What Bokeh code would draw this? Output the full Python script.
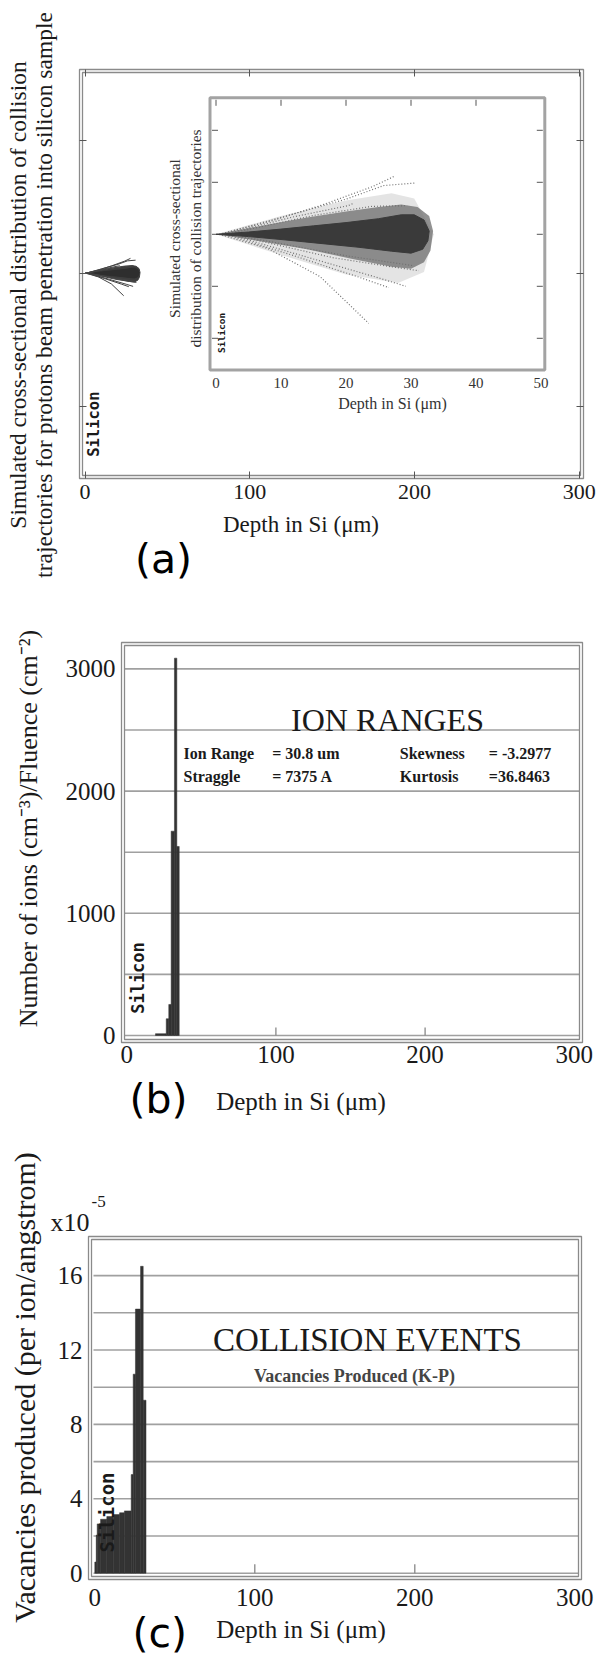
import math
from bokeh.plotting import figure
from bokeh.models import Range1d, LinearAxis, FixedTicker, Label, CustomJSTickFormatter
from bokeh.layouts import column
from bokeh.embed import file_html
from bokeh.resources import INLINE

# ============================== DATA ==============================
# (a) simulated cross-section of collision trajectories (depth, lateral) in µm
core_depth = [0, 5, 10, 15, 20, 25, 28.5, 30.5, 32.0, 32.8, 32.6, 31.8, 30.0, 27.0, 22.0, 16.0, 10.0, 5.0]
core_lateral = [0, 0.35, 0.8, 1.3, 1.8, 2.4, 3.0, 3.0, 2.2, 0.5, -1.0, -2.3, -2.9, -2.6, -2.0, -1.4, -0.8, -0.35]
halo_depth = [0, 8, 14, 20, 25, 28.5, 31.0, 32.8, 33.4, 33.0, 32.0, 30.0, 27.0, 21.0, 14.0, 7.0]
halo_lateral = [0, 1.5, 2.6, 3.5, 4.2, 4.6, 4.2, 2.8, 0.5, -2.5, -4.3, -5.3, -5.0, -3.8, -2.3, -1.1]
spread_depth = [0, 10, 20, 27, 30.5, 33.5, 32, 28, 20, 10]
spread_lateral = [0, 2.8, 5.2, 6.3, 5.5, 0, -5.8, -7.5, -6.2, -3.2]
track_depth = [
    [0.5, 8, 16, 24, 27.6],
    [1, 10, 20, 25.8, 30.7],
    [2, 12, 20.3, 21.0],
    [3, 15, 24, 29.4],
    [0.5, 8, 16, 23.5],
    [2, 12, 22, 26.6],
    [3, 15, 25, 29.2],
    [4, 18, 27, 31.2],
    [5, 20, 30.2],
]
track_lateral = [
    [0, 1.9, 4.4, 7.3, 9.0],
    [0.1, 2.6, 5.4, 7.5, 7.9],
    [0.2, 2.7, 4.4, 4.7],
    [0.3, 2.9, 4.3, 4.4],
    [0, -2.2, -6.5, -13.7],
    [-0.2, -3.3, -6.6, -8.2],
    [-0.3, -3.8, -6.7, -8.0],
    [-0.4, -3.6, -5.0, -5.6],
    [-0.5, -3.3, -4.8],
]
a_depth_ticks = [0, 100, 200, 300]
a_lateral_ticks = [-80.7, 0, 80.7]
inset_depth_ticks = [0, 10, 20, 30, 40, 50]
inset_lateral_ticks = [-16, -8, 0, 8, 16]

# (b) ion ranges histogram
ion_bin_left = [19.3, 26.5, 28.2, 29.8, 32.0, 33.6]
ion_bin_right = [26.5, 28.2, 29.8, 32.0, 33.6, 35.2]
ion_count = [15, 137, 254, 1672, 3088, 1547]
b_depth_ticks = [0, 100, 200, 300]
b_count_ticks = [0, 1000, 2000, 3000]
b_count_minor = [500, 1500, 2500]
ion_stat_names = ["Ion Range", "Straggle", "Skewness", "Kurtosis"]
ion_stat_values = ["= 30.8 um", "= 7375 A", "= -3.2977", "=36.8463"]

# (c) vacancies produced (x1e-5 per ion per angstrom)
vac_bin_edges = [0, 0.9, 1.5, 3.6, 7.5, 11.5, 15.5, 18.5, 22.75, 24.0, 25.4, 28.6, 30.25, 32.0]
vac_values = [0.6, 2.05, 2.65, 2.9, 3.05, 3.15, 3.25, 3.35, 5.3, 10.7, 14.2, 16.5, 9.3]
c_depth_ticks = [0, 100, 200, 300]
c_vac_ticks = [0, 4, 8, 12, 16]
c_vac_minor = [2, 6, 10, 14]

# ============================== STYLE ==============================
SERIF = "Liberation Serif"
SANS = "DejaVu Sans"
MONO = "DejaVu Sans Mono"
TEXT = "#1a1a1a"
FRAME = "#8a8a8a"
GRID = "#a0a0a0"
TICK = "#555555"
BAR = "#333333"
PAGE_W = 601


class Panel:
    """Maps page pixel positions to data values for one figure."""
    def __init__(self, top, height, left, right, ftop, fbot, x0, kx, y0, ky):
        self.top, self.height = top, height
        self.left, self.right, self.ftop, self.fbot = left, right, ftop, fbot
        self.x0, self.kx, self.y0, self.ky = x0, kx, y0, ky

    def x(self, px):
        return (px - self.x0) / self.kx

    def y(self, py):
        return (self.y0 - py) / self.ky


PA = Panel(0, 590, 79, 583, 69, 478, 84.5, 1.6475, 272.7, 1.6475)
INS = Panel(0, 590, 209.5, 544.3, 97.3, 369.5, 215.5, 6.5, 233.8, 6.5)
PB = Panel(590, 535, 121, 582, 642, 1042, 126.2, 1.492, 1035, 0.1222)
PC = Panel(1125, 530, 88, 581, 1236, 1579, 94.3, 1.6, 1572.7, 18.6)


def make_fig(P):
    p = figure(width=PAGE_W, height=P.height, output_backend="svg", toolbar_location=None,
               x_range=Range1d(P.x(0), P.x(PAGE_W)),
               y_range=Range1d(P.y(P.top + P.height), P.y(P.top)),
               x_axis_location=None, y_axis_location=None,
               min_border=0, min_border_left=0, min_border_right=0,
               min_border_top=0, min_border_bottom=0)
    p.outline_line_color = None
    p.grid.visible = False
    p.title.visible = False
    p.background_fill_color = "white"
    p.border_fill_color = "white"
    return p


def draw_box(p, P):
    for d in (0, 3):
        p.quad(left=P.x(P.left + d), right=P.x(P.right - d), top=P.y(P.ftop + d),
               bottom=P.y(P.fbot - d), fill_color=None, line_color=FRAME, line_width=1.3)


def add_axis(p, side, loc, ticks, size="10px", standoff=0, tick_in=0, labels=True):
    ax = LinearAxis(fixed_location=loc, ticker=FixedTicker(ticks=ticks))
    ax.axis_line_color = None
    ax.major_tick_in = tick_in
    ax.major_tick_out = 0
    ax.major_tick_line_color = TICK if tick_in else None
    ax.minor_tick_line_color = None
    ax.major_label_standoff = standoff
    ax.major_label_text_font = SERIF
    ax.major_label_text_font_size = size
    ax.major_label_text_color = TEXT
    if not labels:
        ax.formatter = CustomJSTickFormatter(code="return ''")
    p.add_layout(ax, side)
    return ax


def axis_title(ax, text, size, standoff):
    ax.axis_label = text
    ax.axis_label_text_font = SERIF
    ax.axis_label_text_font_style = "normal"
    ax.axis_label_text_font_size = size
    ax.axis_label_text_color = TEXT
    ax.axis_label_standoff = standoff


def label(p, P, px, py, text, size, font=SERIF, angle=0.0, align="center",
          baseline="middle", style="normal", color=TEXT, ranges=None):
    kw = {}
    if ranges:
        kw = {"x_range_name": ranges[0], "y_range_name": ranges[1]}
    p.add_layout(Label(x=P.x(px), y=P.y(py), text=text, angle=angle, text_align=align,
                       text_baseline=baseline, text_font=font, text_font_size=size,
                       text_font_style=style, text_color=color, **kw))


def hgrid(p, P, levels, x_from, x_to):
    p.segment(x0=P.x(x_from), y0=levels, x1=P.x(x_to), y1=levels,
              line_color=GRID, line_width=1.6)


# ============================== (a) ==============================
pa = make_fig(PA)
pa.extra_x_ranges = {"ix": Range1d(INS.x(0), INS.x(PAGE_W))}
pa.extra_y_ranges = {"iy": Range1d(INS.y(590), INS.y(0))}
IR = ("ix", "iy")
draw_box(pa, PA)

ax_a = add_axis(pa, "below", PA.y(PA.fbot), a_depth_ticks, "22px", 6, tick_in=7)
axis_title(ax_a, "Depth in Si (μm)", "23px", 10)
add_axis(pa, "above", PA.y(PA.ftop), a_depth_ticks, tick_in=7, labels=False)
add_axis(pa, "left", PA.x(PA.left), a_lateral_ticks, tick_in=7, labels=False)
add_axis(pa, "right", PA.x(PA.right), a_lateral_ticks, tick_in=7, labels=False)

# small cone at full scale
pa.patch(halo_depth, halo_lateral, fill_color="#3d3d3d", line_color="#3d3d3d", line_width=1)
pa.patch(core_depth, core_lateral, fill_color="#2e2e2e", line_color="#2e2e2e")
pa.multi_line(track_depth, track_lateral, line_color="#444444", line_width=1)
label(pa, PA, 93.5, 423.7, "Silicon", "15.5px", font=MONO, angle=math.pi / 2, style="bold")

# inset (zoom on the first 50 µm)
pa.quad(left=INS.x(INS.left), right=INS.x(INS.right), top=INS.y(INS.ftop), bottom=INS.y(INS.fbot),
        fill_color="white", line_color="#a3a3a3", line_width=3,
        x_range_name="ix", y_range_name="iy")
tl = 6 / INS.kx
top_edge, left_edge, right_edge = INS.y(INS.ftop + 2), INS.x(INS.left + 2), INS.x(INS.right - 2)
pa.segment(x0=inset_depth_ticks[:-1], y0=top_edge, x1=inset_depth_ticks[:-1], y1=top_edge - tl,
           line_color=TICK, x_range_name="ix", y_range_name="iy")
pa.segment(x0=left_edge, y0=inset_lateral_ticks, x1=left_edge + tl, y1=inset_lateral_ticks,
           line_color=TICK, x_range_name="ix", y_range_name="iy")
pa.segment(x0=right_edge, y0=inset_lateral_ticks, x1=right_edge - tl, y1=inset_lateral_ticks,
           line_color=TICK, x_range_name="ix", y_range_name="iy")
pa.patch(spread_depth, spread_lateral, fill_color="#c4c4c4", fill_alpha=0.45, line_color=None,
         x_range_name="ix", y_range_name="iy")
pa.multi_line(track_depth, track_lateral, line_color="#707070", line_width=1.2, line_dash="1 2",
              x_range_name="ix", y_range_name="iy")
pa.patch(halo_depth, halo_lateral, fill_color="#6e6e6e", fill_alpha=0.75, line_color=None,
         x_range_name="ix", y_range_name="iy")
pa.patch(core_depth, core_lateral, fill_color="#3a3a3a", line_color="#3a3a3a",
         x_range_name="ix", y_range_name="iy")
for t in inset_depth_ticks:
    pa.add_layout(Label(x=t, y=INS.y(382), text=str(t), text_align="center", text_baseline="middle",
                        text_font=SERIF, text_font_size="15px", text_color="#333333",
                        x_range_name="ix", y_range_name="iy"))
label(pa, INS, 392, 403, "Depth in Si (μm)", "16px", color="#333333", ranges=IR)
label(pa, INS, 174, 238, "Simulated cross-sectional", "15.5px", angle=math.pi / 2,
      color="#333333", ranges=IR)
label(pa, INS, 195, 238, "distribution of collision trajectories", "15.5px", angle=math.pi / 2,
      color="#333333", ranges=IR)
label(pa, INS, 220.6, 332.4, "Silicon", "9.5px", font=MONO, angle=math.pi / 2, style="bold",
      ranges=IR)

# outer titles
label(pa, PA, 17, 294.5, "Simulated cross-sectional distribution of collision", "23.5px",
      angle=math.pi / 2)
label(pa, PA, 43, 294.5, "trajectories for protons beam penetration into silicon sample", "23.5px",
      angle=math.pi / 2)
label(pa, PA, 163, 558, "(a)", "41px", font=SANS, color="black")

# ============================== (b) ==============================
pb = make_fig(PB)
hgrid(pb, PB, b_count_ticks + b_count_minor, PB.left + 3, PB.right - 3)
marks_b = b_depth_ticks[1:3]
pb.segment(x0=marks_b, y0=0, x1=marks_b, y1=8 / PB.ky, line_color="#888888", line_width=1.3)
pb.quad(left=ion_bin_left, right=ion_bin_right, top=ion_count, bottom=0,
        fill_color=BAR, line_color=BAR, line_width=0.5)
draw_box(pb, PB)
ax_b = add_axis(pb, "below", PB.y(PB.fbot), b_depth_ticks, "25px", 3)
axis_title(ax_b, "Depth in Si (μm)", "25px", 22)
add_axis(pb, "left", PB.x(PB.left), b_count_ticks, "25px", 6)

label(pb, PB, 387, 719, "ION RANGES", "32px", baseline="alphabetic")
stat_px = [(183, 753), (183, 776), (399.3, 753), (399.3, 776)]
val_px = [(271.7, 753), (271.7, 776), (488.3, 753), (488.3, 776)]
for name, (sx, sy) in zip(ion_stat_names, stat_px):
    label(pb, PB, sx, sy, name, "16px", align="left", baseline="alphabetic", style="bold")
for val, (sx, sy) in zip(ion_stat_values, val_px):
    label(pb, PB, sx, sy, val, "16px", align="left", baseline="alphabetic", style="bold")
label(pb, PB, 137.5, 977.5, "Silicon", "17px", font=MONO, angle=math.pi / 2, style="bold")
label(pb, PB, 27.5, 828, "Number of ions (cm⁻³)/Fluence (cm⁻²)", "26px", angle=math.pi / 2)
label(pb, PB, 158, 1098, "(b)", "41px", font=SANS, color="black")

# ============================== (c) ==============================
pc = make_fig(PC)
hgrid(pc, PC, c_vac_ticks + c_vac_minor, PC.left + 5, PC.right - 3)
marks_c = c_depth_ticks[1:3]
pc.segment(x0=marks_c, y0=0, x1=marks_c, y1=9 / PC.ky, line_color="#888888", line_width=1.3)
pc.quad(left=vac_bin_edges[:-1], right=vac_bin_edges[1:], top=vac_values, bottom=0,
        fill_color=BAR, line_color=BAR, line_width=0.5)
draw_box(pc, PC)
ax_c = add_axis(pc, "below", PC.y(PC.fbot), c_depth_ticks, "25px", 9)
axis_title(ax_c, "Depth in Si (μm)", "25px", 7)
add_axis(pc, "left", PC.x(PC.left), c_vac_ticks, "25px", 6)

label(pc, PC, 367, 1339, "COLLISION EVENTS", "33px", baseline="alphabetic")
label(pc, PC, 354, 1375, "Vacancies Produced (K-P)", "18px", baseline="alphabetic",
      style="bold", color="#444444")
label(pc, PC, 106.7, 1512, "Silicon", "19px", font=MONO, angle=math.pi / 2, style="bold")
label(pc, PC, 24, 1387, "Vacancies produced (per ion/angstrom)", "30px", angle=math.pi / 2)
label(pc, PC, 50, 1221.7, "x10", "26px", align="left", baseline="alphabetic")
label(pc, PC, 91, 1201, "-5", "17px", align="left", baseline="alphabetic")
label(pc, PC, 159.3, 1632, "(c)", "41px", font=SANS, color="black")

layout = column(pa, pb, pc)
open("out.html", "w").write(file_html(layout, INLINE))
